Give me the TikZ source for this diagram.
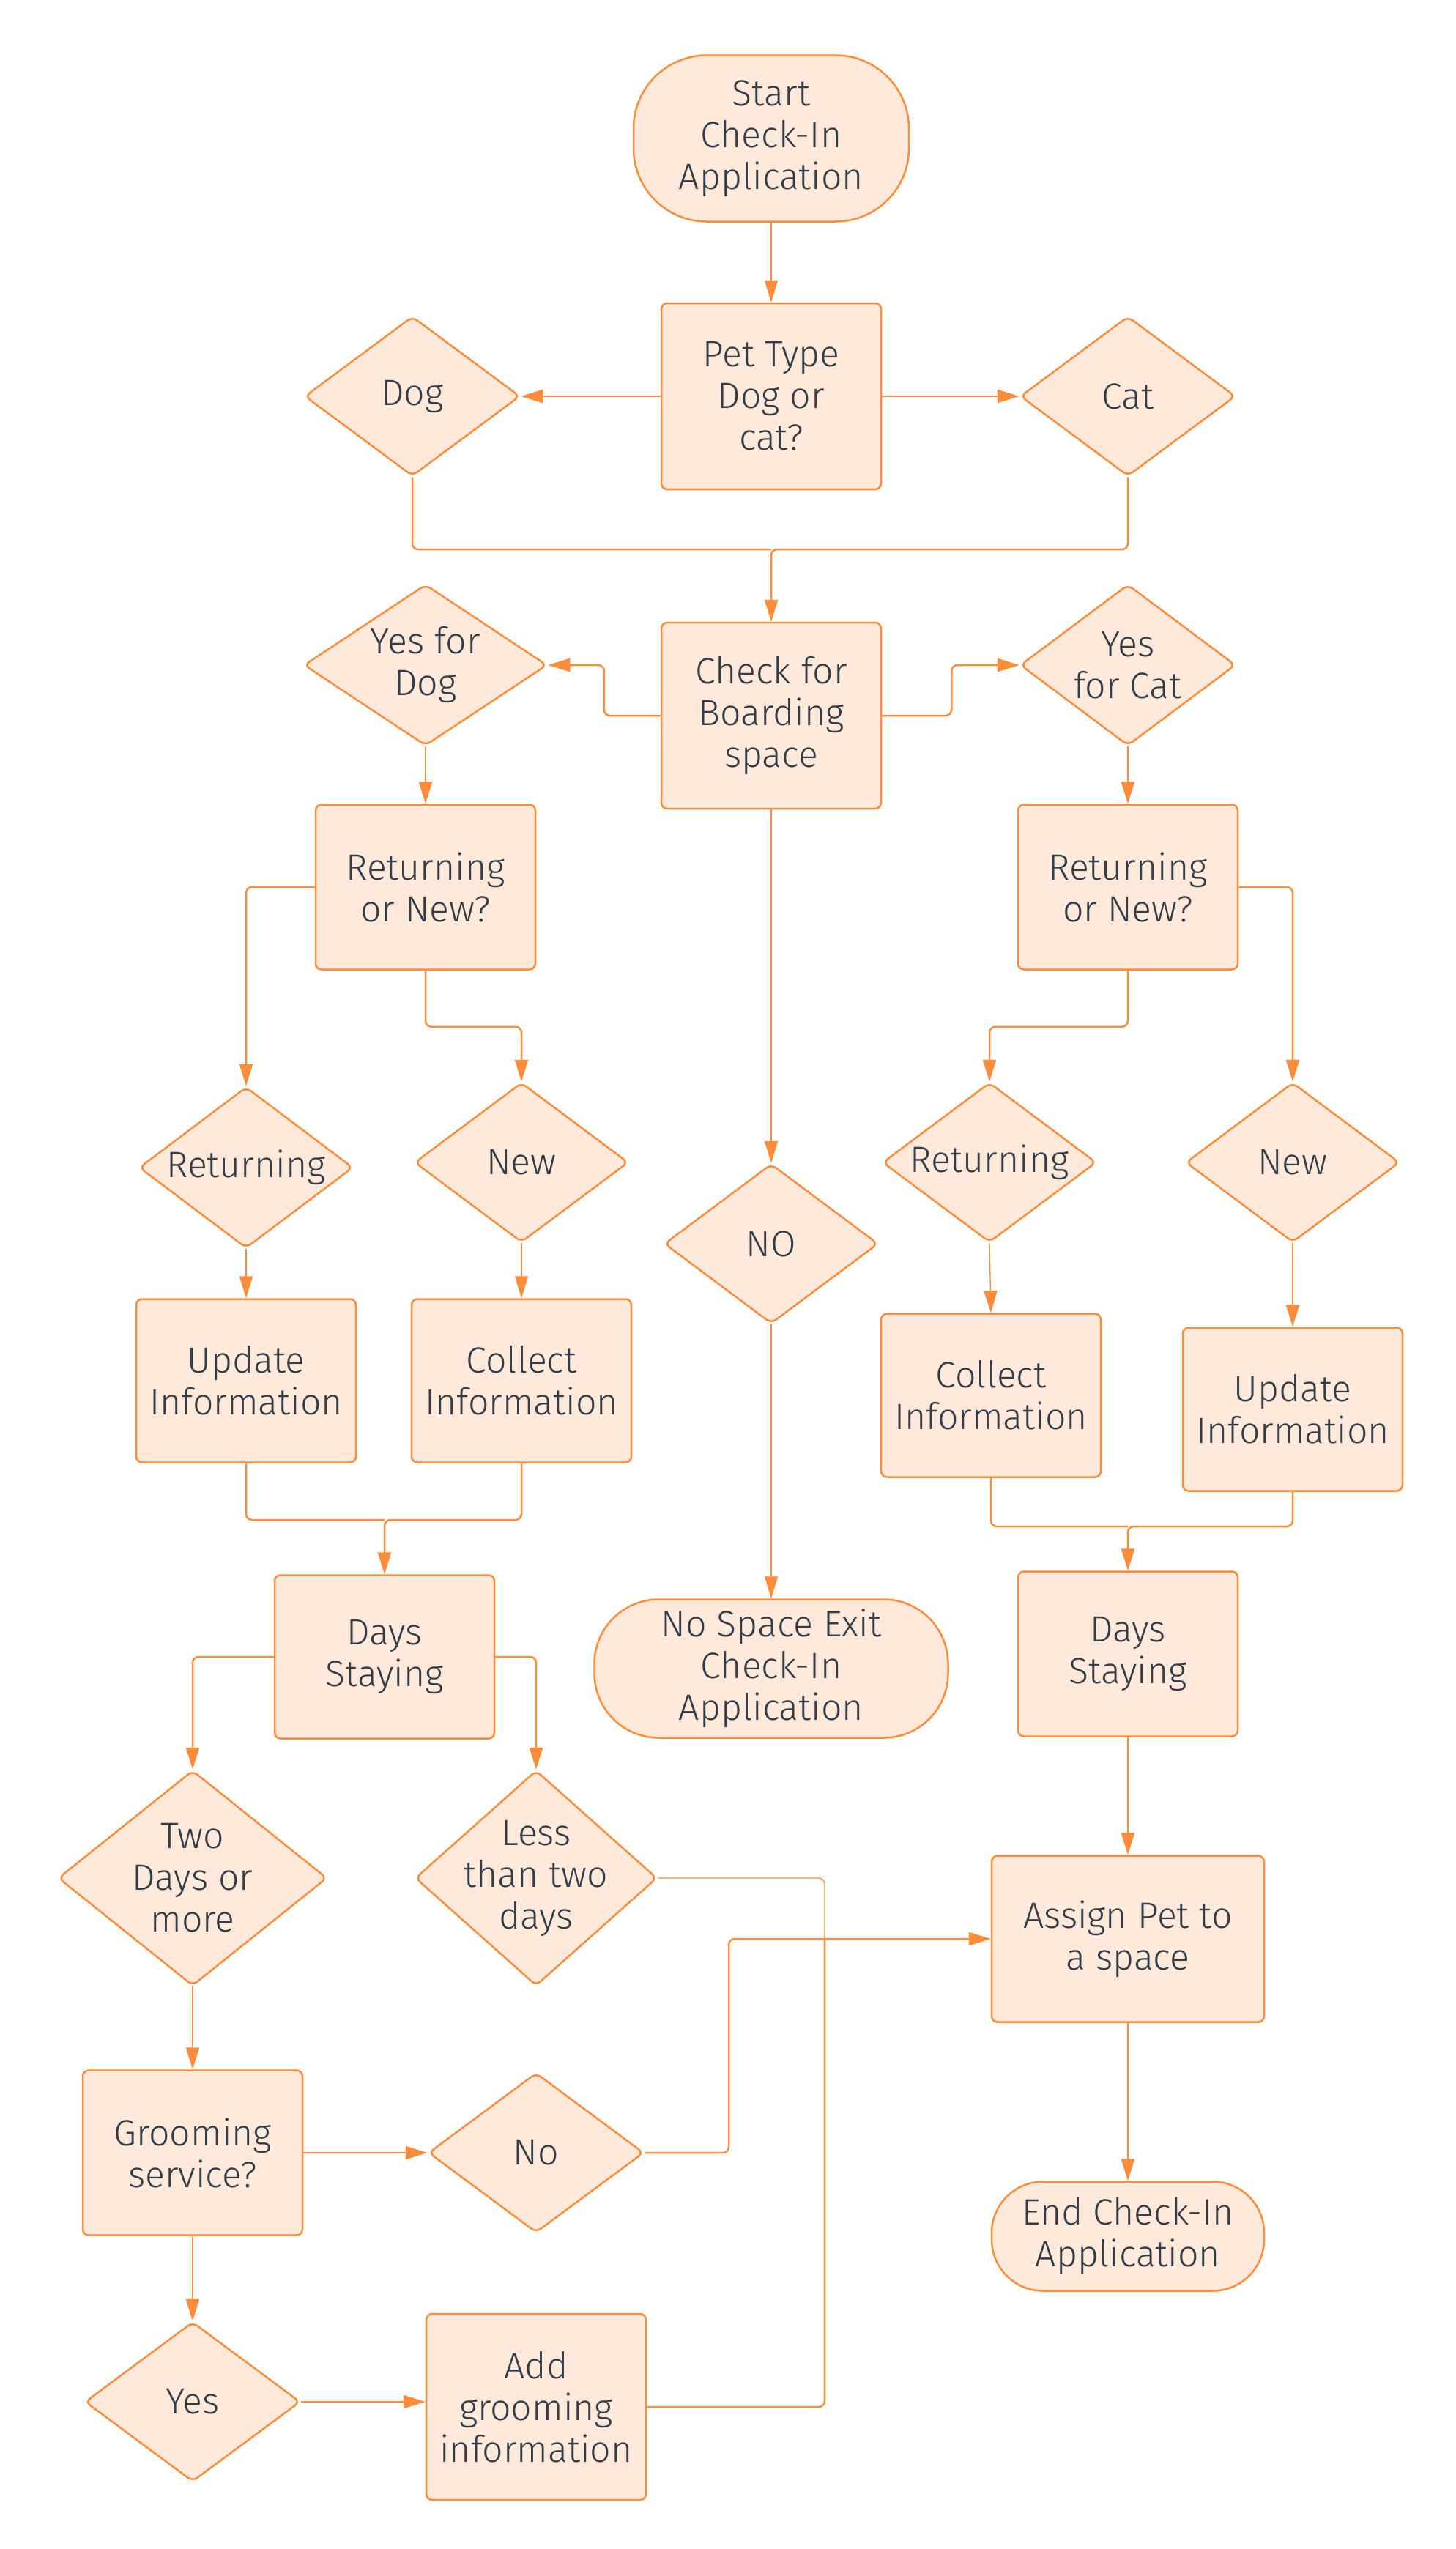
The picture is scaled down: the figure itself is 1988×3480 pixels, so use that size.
\documentclass[tikz,border=0pt]{standalone}
\usepackage{fontspec}
\setmainfont{Fira Sans Light}
\usetikzlibrary{shapes.geometric,arrows.meta}
\definecolor{ln}{HTML}{FF8C3A}
\definecolor{fl}{HTML}{FEE9DA}
\definecolor{tx}{HTML}{333D48}
\begin{document}
\begin{tikzpicture}[x=1pt,y=-1pt,
  txtfont/.style={text=tx, font=\fontsize{50}{57}\selectfont, align=center},
  base/.style={draw=ln, fill=fl, line width=2.5pt, txtfont, inner sep=0pt},
  box/.style={base, rectangle, rounded corners=8pt, minimum width=300pt, minimum height=225pt},
  term/.style={base, rectangle, rounded corners=#1},
  dia/.style={base, diamond, rounded corners=8pt, minimum width=294pt, minimum height=218pt},
  lbl/.style={txtfont, inner sep=0pt},
  wire/.style={draw=ln, line width=2.5pt, rounded corners=8pt},
  conn/.style={wire, -{Triangle[length=30pt,width=18pt]}},
  thinln/.style={line width=1.3pt},
]
\fill[white] (0,0) rectangle (1988,3480);
\useasboundingbox (0,0) rectangle (1988,3480);

% nodes
\node[term=100pt, minimum width=376pt, minimum height=227pt] (start) at (1053,189) {Start\\Check-In\\Application};
\node[box, minimum height=254pt] (pet) at (1053,541) {Pet Type\\Dog or\\cat?};
\node[dia, label={[lbl]center:Dog}] (dog) at (563,541) {};
\node[dia, label={[lbl]center:Cat}] (cat) at (1540,541) {};
\coordinate (m1) at (1053,750);
\node[box, minimum height=254pt] (check) at (1053,977) {Check for\\Boarding\\space};
\node[dia, minimum width=332pt, minimum height=220pt, label={[lbl]center:{Yes for\\Dog}}] (ydog) at (581,908) {};
\node[dia, minimum height=220pt, label={[lbl]center:{Yes\\for Cat}}] (ycat) at (1540,908) {};
\node[box] (ronL) at (581,1211) {Returning\\or New?};
\node[box] (ronR) at (1540,1211) {Returning\\or New?};
\node[dia, minimum width=292pt, minimum height=220pt, label={[lbl]center:Returning}] (retL) at (336,1594) {};
\node[dia, minimum width=292pt, label={[lbl]center:New}] (newL) at (712,1587) {};
\node[dia, minimum width=292pt, label={[lbl]center:Returning}] (retR) at (1351,1587) {};
\node[dia, minimum width=292pt, label={[lbl]center:New}] (newR) at (1765,1587) {};
\node[dia, minimum width=292pt, label={[lbl]center:NO}] (no) at (1053,1698) {};
\node[box, minimum height=223pt] (updL) at (336,1885) {Update\\Information};
\node[box, minimum height=223pt] (colL) at (712,1885) {Collect\\Information};
\node[box, minimum height=223pt] (colR) at (1353,1905) {Collect\\Information};
\node[box, minimum height=223pt] (updR) at (1765,1924) {Update\\Information};
\coordinate (mL) at (525,2075);
\coordinate (mR) at (1540,2084);
\node[box, minimum height=223pt] (daysL) at (525,2262) {Days\\Staying};
\node[term=88pt, minimum width=483pt, minimum height=189pt] (nospace) at (1053,2278) {No Space Exit\\Check-In\\Application};
\node[box] (daysR) at (1540,2258) {Days\\Staying};
\node[dia, minimum width=367pt, minimum height=294pt, label={[lbl]center:{Two\\Days or\\more}}] (twod) at (263,2564) {};
\node[dia, minimum width=330pt, minimum height=294pt, label={[lbl]center:{Less\\than two\\days}}] (less) at (732,2564) {};
\node[box, minimum width=372pt, minimum height=227pt] (assign) at (1540,2647) {Assign Pet to\\a space};
\node[box] (groom) at (263,2939) {Grooming\\service?};
\node[dia, label={[lbl]center:No}] (nod) at (732,2939) {};
\node[term=70pt, minimum width=372pt, minimum height=149pt] (endn) at (1540,3053) {End Check-In\\Application};
\node[dia, label={[lbl]center:Yes}] (yesd) at (263,3279) {};
\node[box, minimum height=254pt] (add) at (732,3286) {Add\\grooming\\information};
\coordinate (jx) at (1126,2647);
\coordinate (jn) at (995,2647);

% connectors
\draw[conn, thinln] (start) -- (pet);
\draw[conn] (pet.west) -- (dog.east);
\draw[conn] (pet.east) -- (cat.west);
\draw[wire] (dog.south) |- (m1);
\draw[conn] (cat.south) |- (m1) -- (check.north);
\draw[conn] (check.west) -- ++(-77,0) |- (ydog.east);
\draw[conn] (check.east) -- ++(95,0) |- (ycat.west);
\draw[conn] (ydog.south) -- (ronL.north);
\draw[conn] (ycat.south) -- (ronR.north);
\draw[conn] (ronL.west) -| (retL.north);
\draw[conn] (ronL.south) -- ++(0,77) -| (newL.north);
\draw[conn] (ronR.south) -- ++(0,77) -| (retR.north);
\draw[conn] (ronR.east) -| (newR.north);
\draw[conn, thinln] (check.south) -- (no.north);
\draw[conn, thinln] (no.south) -- (nospace.north);
\draw[conn] (retL.south) -- (updL.north);
\draw[conn, thinln] (newL.south) -- (colL.north);
\draw[conn, thinln] (retR.south) -- (colR.north);
\draw[conn] (newR.south) -- (updR.north);
\draw[wire] (updL.south) |- (mL);
\draw[conn] (colL.south) |- (mL) -- (daysL.north);
\draw[wire] (colR.south) |- (mR);
\draw[conn] (updR.south) |- (mR) -- (daysR.north);
\draw[conn] (daysL.west) -| (twod.north);
\draw[conn] (daysL.east) -| (less.north);
\draw[conn] (daysR.south) -- (assign.north);
\draw[wire, thinln] (less.east) -| (jx);
\draw[wire] (add.east) -| (jx);
\draw[conn] (nod.east) -| (jn) -- (assign.west);
\draw[conn] (twod.south) -- (groom.north);
\draw[conn, thinln] (groom.east) -- (nod.west);
\draw[conn] (groom.south) -- (yesd.north);
\draw[conn] (yesd.east) -- (yesd.east -| add.west);
\draw[conn] (assign.south) -- (endn.north);
\end{tikzpicture}
\end{document}
